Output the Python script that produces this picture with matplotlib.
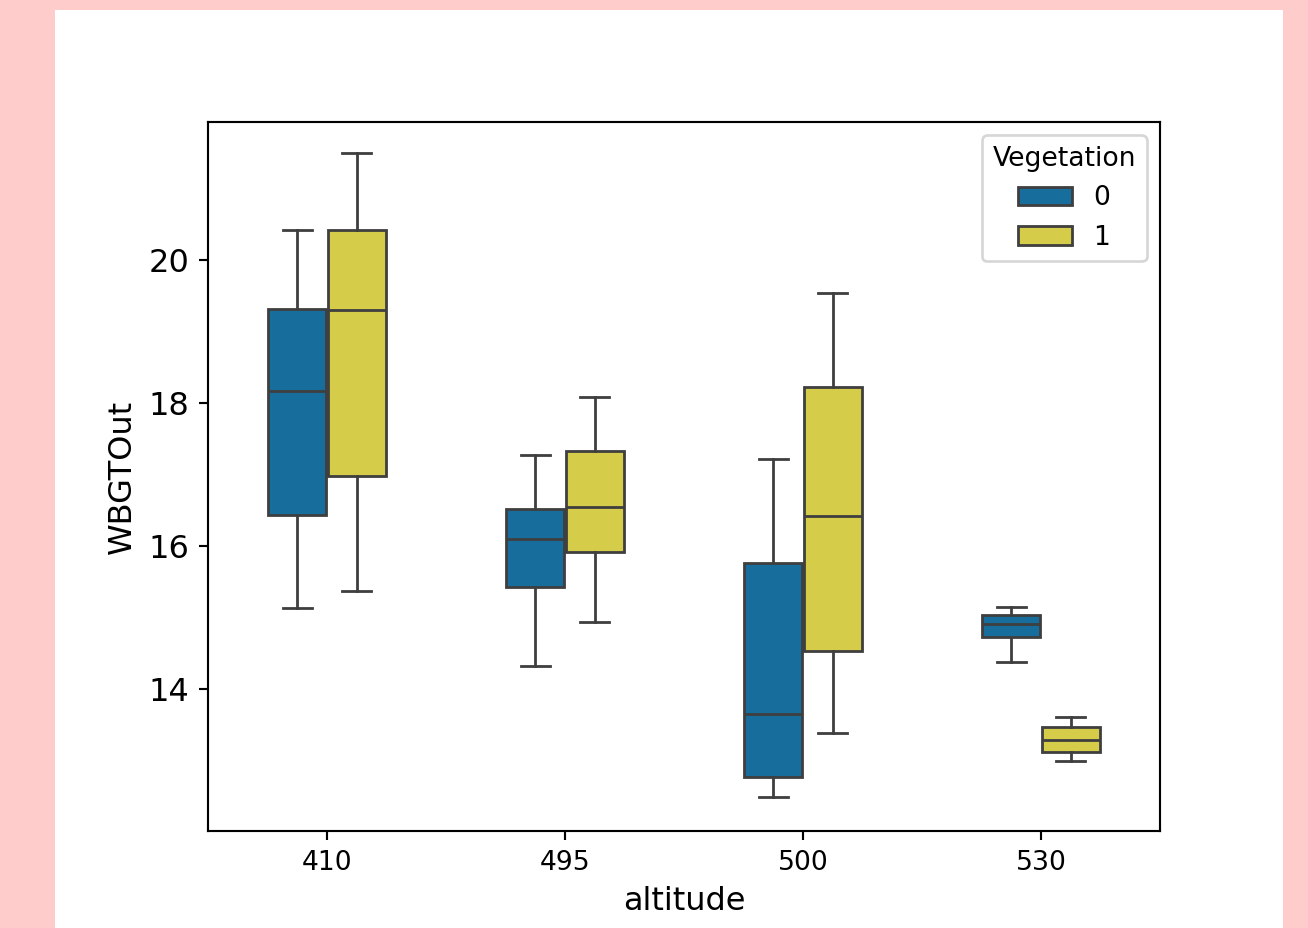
import matplotlib
matplotlib.use("Agg")
import matplotlib.pyplot as plt
from matplotlib.patches import Rectangle, Patch
import seaborn as sns

# ---- data ----
altitudes = ["410", "495", "500", "530"]
vegetation_levels = ["0", "1"]

whislo_0 = [15.13, 14.32, 12.48, 14.38]
q1_0     = [16.43, 15.43, 12.77, 14.73]
med_0    = [18.17, 16.10, 13.65, 14.90]
q3_0     = [19.31, 16.52, 15.76, 15.03]
whishi_0 = [20.42, 17.27, 17.22, 15.15]

whislo_1 = [15.37, 14.94, 13.38, 12.99]
q1_1     = [16.98, 15.92, 14.53, 13.12]
med_1    = [19.30, 16.55, 16.42, 13.29]
q3_1     = [20.42, 17.33, 18.22, 13.47]
whishi_1 = [21.50, 18.08, 19.54, 13.61]

yticks = [14, 16, 18, 20]

# ---- styling ----
W, H, DPI = 1308, 928, 192
base_colors = ["#0173b2", "#ece133"]
colors = [sns.desaturate(c, 0.75) for c in base_colors]
line_color = "#3f3f3f"
lw = 1.05

fig = plt.figure(figsize=(W / DPI, H / DPI), dpi=DPI)
fig.patch.set_facecolor("#ffcccc")
fig.add_artist(Rectangle((55 / W, 0), 1228 / W, 918 / H, transform=fig.transFigure,
                         facecolor="white", edgecolor="none", zorder=-10))

ax = fig.add_axes([208 / W, (H - 831) / H, 952 / W, 709 / H])

groups = [
    (whislo_0, q1_0, med_0, q3_0, whishi_0),
    (whislo_1, q1_1, med_1, q3_1, whishi_1),
]
box_w = 0.25
offsets = [-0.125, 0.125]
for h, (lo, q1, med, q3, hi) in enumerate(groups):
    stats = []
    for i in range(len(altitudes)):
        stats.append(dict(whislo=lo[i], q1=q1[i], med=med[i], q3=q3[i], whishi=hi[i], fliers=[]))
    positions = [i + offsets[h] for i in range(len(altitudes))]
    ax.bxp(stats, positions=positions, widths=box_w * 0.98, patch_artist=True,
           showfliers=False, manage_ticks=False,
           boxprops=dict(facecolor=colors[h], edgecolor=line_color, linewidth=lw),
           medianprops=dict(color=line_color, linewidth=lw),
           whiskerprops=dict(color=line_color, linewidth=lw),
           capprops=dict(color=line_color, linewidth=lw))

ax.set_xlim(-0.5, len(altitudes) - 0.5)
ax.set_ylim(12.01, 21.93)
ax.set_xticks(range(len(altitudes)))
ax.set_xticklabels(altitudes, fontsize=10)
ax.set_yticks(yticks)
ax.set_yticklabels([str(t) for t in yticks], fontsize=12)
ax.set_xlabel("altitude", fontsize=12)
ax.set_ylabel("WBGTOut", fontsize=12)

handles = [Patch(facecolor=colors[h], edgecolor=line_color, linewidth=lw, label=vegetation_levels[h])
           for h in range(2)]
ax.legend(handles=handles, title="Vegetation", loc="upper right", fontsize=10, title_fontsize=10)

fig.savefig("out.png", dpi=DPI, facecolor=fig.get_facecolor())
